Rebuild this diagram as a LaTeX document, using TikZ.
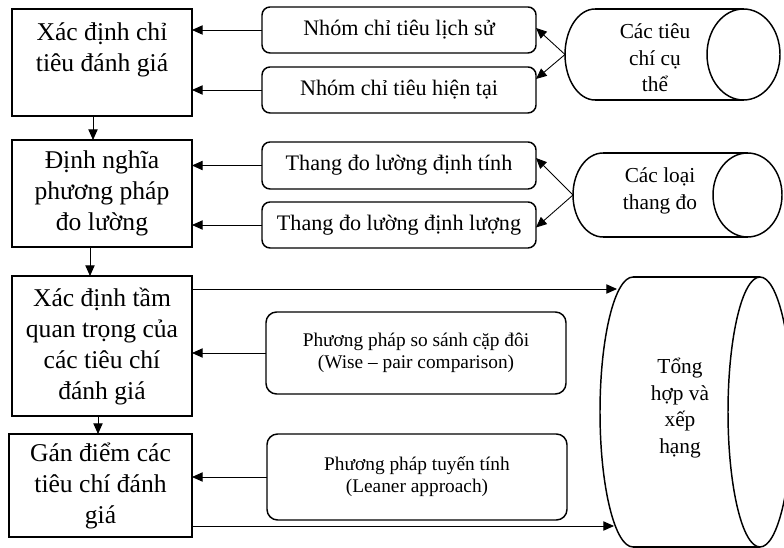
\documentclass[tikz,border=0pt]{standalone}
\usepackage{fontspec}
\setmainfont{Liberation Serif}
\usetikzlibrary{arrows.meta}
\begin{document}
\begin{tikzpicture}[x=0.75pt,y=-0.75pt,
  lbox/.style={draw, line width=0.9pt, inner sep=0pt, outer sep=0pt, align=center, font=\fontsize{19.2}{23.25}\selectfont},
  mbox/.style={draw, line width=1.1pt, rounded corners=6pt, inner sep=0pt, outer sep=0pt, align=center, minimum width=274*0.75pt, font=\fontsize{16.6}{20}\selectfont},
  sbox/.style={draw, line width=1.1pt, rounded corners=8pt, inner sep=0pt, outer sep=0pt, align=center, minimum width=300*0.75pt, font=\fontsize{14.5}{16.5}\selectfont},
  cyl/.style={line width=1.1pt},
  ctext/.style={align=center, font=\fontsize{16}{20}\selectfont},
  arr/.style={-{Triangle[length=8pt,width=7pt]}, line width=0.65pt},
]
\useasboundingbox (0,0) rectangle (784,548);
\fill[white] (0,0) rectangle (784,548);
\clip (0,0) rectangle (784,548);

% left process boxes
\node[lbox, minimum width=180*0.75pt, minimum height=107*0.75pt] (L1) at (102,62.5) {Xác định chỉ\\tiêu đánh giá\\~};
\node[lbox, minimum width=180*0.75pt, minimum height=107*0.75pt] (L2) at (102,193.5) {Định nghĩa\\phương pháp\\đo lường};
\node[lbox, minimum width=180*0.75pt, minimum height=140*0.75pt] (L3) at (102,346) {Xác định tầm\\quan trọng của\\các tiêu chí\\đánh giá};
\node[lbox, minimum width=183*0.75pt, minimum height=103*0.75pt] (L4) at (100.5,485.5) {Gán điểm các\\tiêu chí đánh\\giá};

% middle boxes
\node[mbox, minimum height=46*0.75pt] (M1) at (399,30) {Nhóm chỉ tiêu lịch sử};
\node[mbox, minimum height=46*0.75pt] (M2) at (399,90) {Nhóm chỉ tiêu hiện tại};
\node[mbox, minimum height=47*0.75pt] (M3) at (399,165.5) {Thang đo lường định tính};
\node[mbox, minimum height=46*0.75pt] (M4) at (399,225) {Thang đo lường định lượng};
\node[sbox, minimum height=82*0.75pt] (M5) at (416,353) {Phương pháp so sánh cặp đôi\\(Wise – pair comparison)};
\node[sbox, minimum height=86*0.75pt] (M6) at (417,477) {Phương pháp tuyến tính\\(Leaner approach)};

% cylinder 1
\draw[cyl] (595,9) -- (743.5,9) (595,100) -- (743.5,100);
\draw[cyl] (595,9) arc[start angle=270, end angle=90, x radius=30, y radius=45.5];
\draw[cyl] (743.5,54.5) ellipse[x radius=36.5, y radius=45.5];
\node[ctext] (C1) at (655,58) {Các tiêu\\chí cụ\\thể};
\coordinate (c1) at (565,54.5);

% cylinder 2
\draw[cyl] (603,153) -- (747.5,153) (603,237) -- (747.5,237);
\draw[cyl] (603,153) arc[start angle=270, end angle=90, x radius=30, y radius=42];
\draw[cyl] (747.5,195) ellipse[x radius=34.5, y radius=42];
\node[ctext] (C2) at (660,191) {Các loại\\thang đo};
\coordinate (c2) at (573,195);

% cylinder 3
\draw[cyl] (633,277) -- (760,277) (633,547) -- (760,547);
\draw[cyl] (633,277) arc[start angle=270, end angle=90, x radius=33, y radius=135];
\draw[cyl] (760,412) ellipse[x radius=32, y radius=135];
\node[ctext] (C3) at (680,408) {Tổng\\hợp và\\xếp\\hạng};
\coordinate (c3a) at (617,289);
\coordinate (c3b) at (614,526);

% arrows middle -> left
\draw[arr] (M1.west) -- (M1.west -| L1.east);
\draw[arr] (M2.west) -- (M2.west -| L1.east);
\draw[arr] (M3.west) -- (M3.west -| L2.east);
\draw[arr] (M4.west) -- (M4.west -| L2.east);
\draw[arr] (M5.west) -- (M5.west -| L3.east);
\draw[arr] (M6.west) -- (M6.west -| L4.east);

% arrows cylinders -> middle
\draw[arr] (c1) -- ([yshift=2*0.75pt]M1.east);
\draw[arr] (c1) -- ([yshift=11*0.75pt]M2.east);
\draw[arr] (c2) -- ([yshift=7.5*0.75pt]M3.east);
\draw[arr] (c2) -- ([yshift=-2.5*0.75pt]M4.east);

% arrows left -> cylinder 3
\draw[arr] (c3a -| L3.east) -- (c3a);
\draw[arr] (c3b -| L4.east) -- (c3b);

% down arrows
\coordinate (d1) at (93,0);
\coordinate (d2) at (90,0);
\coordinate (d3) at (98,0);
\draw[arr] (L1.south -| d1) -- (L2.north -| d1);
\draw[arr] (L2.south -| d2) -- (L3.north -| d2);
\draw[arr] (L3.south -| d3) -- (L4.north -| d3);
\end{tikzpicture}
\end{document}
